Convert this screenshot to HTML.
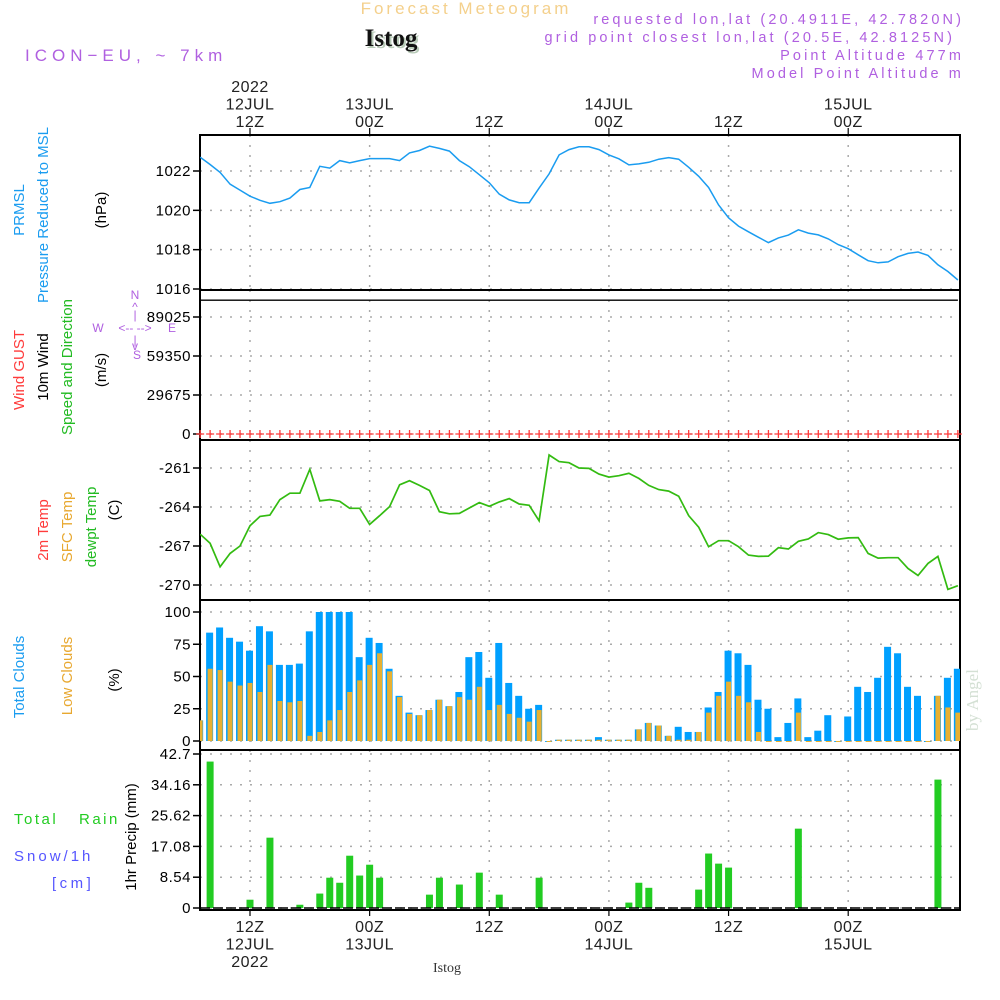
<!DOCTYPE html>
<html><head><meta charset="utf-8">
<style>
html,body{margin:0;padding:0;background:#fff;}
svg{display:block;font-family:"Liberation Sans",sans-serif;}
</style></head>
<body>
<svg id="chart" width="1000" height="1000" viewBox="0 0 1000 1000" xmlns="http://www.w3.org/2000/svg">
<g id="static">
<text x="466" y="14" text-anchor="middle" font-size="17" fill="#f4d08c" letter-spacing="3">Forecast Meteogram</text>
<text x="393" y="48" text-anchor="middle" font-size="25" font-weight="bold" font-family="Liberation Serif,serif" fill="#b8cbb8">Istog</text>
<text x="391" y="46" text-anchor="middle" font-size="25" font-weight="bold" font-family="Liberation Serif,serif" fill="#111">Istog</text>
<text x="25" y="61" font-size="17" fill="#b060e0" letter-spacing="5">ICON−EU, ~ 7km</text>
<g font-size="14.5" fill="#b060e0" text-anchor="end" letter-spacing="3.1">
<text x="964" y="24">requested lon,lat (20.4911E, 42.7820N)</text>
<text x="955" y="42">grid point closest lon,lat (20.5E, 42.8125N)</text>
<text x="964" y="60">Point Altitude 477m</text>
<text x="964" y="78">Model Point Altitude m</text>
</g>
<text x="978" y="700" font-size="17" font-family="Liberation Serif,serif" fill="#d4e0d4" transform="rotate(-90 978 700)" text-anchor="middle">by Angel</text>
<g font-size="15" text-anchor="middle">
<text transform="translate(24,210) rotate(-90)" fill="#1a9cf0">PRMSL</text>
<text transform="translate(48,215) rotate(-90)" fill="#1a9cf0">Pressure Reduced to MSL</text>
<text transform="translate(106,210) rotate(-90)" fill="#000">(hPa)</text>
<text transform="translate(24,370) rotate(-90)" fill="#ff3b3b">Wind GUST</text>
<text transform="translate(48,367) rotate(-90)" fill="#000">10m Wind</text>
<text transform="translate(72,367) rotate(-90)" fill="#22bb22">Speed and Direction</text>
<text transform="translate(106,370) rotate(-90)" fill="#000">(m/s)</text>
<text transform="translate(48,530) rotate(-90)" fill="#ff3b3b">2m Temp</text>
<text transform="translate(72,527) rotate(-90)" fill="#e8a830">SFC Temp</text>
<text transform="translate(96,527) rotate(-90)" fill="#22bb22">dewpt Temp</text>
<text transform="translate(119,510) rotate(-90)" fill="#000">(C)</text>
<text transform="translate(24,677) rotate(-90)" fill="#1a9cf0">Total Clouds</text>
<text transform="translate(72,676) rotate(-90)" fill="#e8a830">Low Clouds</text>
<text transform="translate(119,680) rotate(-90)" fill="#000">(%)</text>
<text transform="translate(136,837) rotate(-90)" fill="#000">1hr Precip (mm)</text>
</g>
<text x="14" y="824" font-size="15" fill="#22cc22" letter-spacing="2.5">Total</text>
<text x="79" y="824" font-size="15" fill="#22cc22" letter-spacing="2.5">Rain</text>
<text x="14" y="861" font-size="15" fill="#5555ff" letter-spacing="3">Snow/1h</text>
<text x="52" y="888" font-size="15" fill="#5555ff" letter-spacing="3.5">[cm]</text>
<g font-size="12" fill="#b060e0" text-anchor="middle">
<text x="135" y="299">N</text><text x="135" y="311">^</text><text x="135" y="319">|</text>
<text x="98" y="332">W</text><text x="135" y="332">&lt;-- --&gt;</text><text x="172" y="332">E</text>
<text x="135" y="344">|</text><text x="135" y="350">v</text><text x="137" y="359">S</text>
</g>
<text x="447" y="972" font-size="14" font-family="Liberation Serif,serif" fill="#333" text-anchor="middle">Istog</text>
</g>
<g id="dyn"></g>
</svg>
<script>
const hours = [];
for (let h = -5; h <= 71; h++) hours.push(h);
const pressure = [1022.70,1022.33,1021.93,1021.33,1021.03,1020.72,1020.51,1020.36,1020.44,1020.62,1021.06,1021.16,1022.24,1022.15,1022.53,1022.41,1022.53,1022.63,1022.63,1022.63,1022.53,1022.92,1023.04,1023.26,1023.15,1023.01,1022.53,1022.22,1021.81,1021.40,1020.82,1020.53,1020.39,1020.39,1021.13,1021.85,1022.82,1023.09,1023.23,1023.23,1023.09,1022.82,1022.62,1022.31,1022.36,1022.44,1022.60,1022.68,1022.60,1022.19,1021.73,1021.16,1020.27,1019.62,1019.20,1018.91,1018.63,1018.36,1018.60,1018.74,1019.01,1018.84,1018.75,1018.55,1018.26,1018.05,1017.74,1017.44,1017.33,1017.38,1017.64,1017.81,1017.88,1017.71,1017.23,1016.89,1016.46];
const dewpt = [-266.09,-266.79,-268.60,-267.57,-267.00,-265.45,-264.72,-264.62,-263.43,-262.94,-262.94,-261.10,-263.53,-263.43,-263.56,-264.10,-264.10,-265.34,-264.67,-263.97,-262.29,-261.98,-262.34,-262.73,-264.36,-264.52,-264.49,-264.08,-263.66,-263.95,-263.61,-263.35,-263.77,-263.87,-265.06,-260.00,-260.51,-260.59,-261.00,-261.03,-261.47,-261.70,-261.59,-261.41,-261.80,-262.34,-262.66,-262.78,-263.17,-264.67,-265.55,-267.05,-266.59,-266.59,-267.05,-267.70,-267.80,-267.78,-267.13,-267.23,-266.64,-266.46,-265.97,-266.12,-266.48,-266.38,-266.35,-267.57,-267.93,-267.90,-267.90,-268.73,-269.27,-268.34,-267.80,-270.34,-270.05];
const windSpeed = []; for (let i = 0; i < 77; i++) windSpeed.push(101800);
const windGust = []; for (let i = 0; i < 77; i++) windGust.push(0);
const totalClouds = [16,84,88,80,77,70,89,85,59,59,60,85,100,100,100,100,65,80,76,56,35,22,20,24,32,27,38,65,69,49,76,45,35,25,28,0,1,1,1,1,3,1,1,1,9,14,12,4,11,7,7,26,38,70,68,59,32,25,3,14,33,3,8,20,0,19,42,38,49,73,68,42,35,0,35,49,56];
const lowClouds = [16,56,55,46,43,45,38,59,31,30,31,4,7,16,24,38,47,59,68,54,34,21,20,24,32,27,34,32,42,24,28,21,18,15,24,0,1,1,1,1,1,1,1,1,9,14,12,4,1,1,7,22,35,46,35,30,7,0,0,0,22,0,0,0,0,0,0,0,0,0,0,0,0,0,35,26,22];
const precipHours = [-4,0,2,5,7,8,9,10,11,12,13,18,19,21,23,25,29,38,39,40,45,46,47,48,55,69];
const precipValues = [40.6,2.3,19.5,0.9,4.0,8.4,7.0,14.5,9.0,12.0,8.4,3.7,8.4,6.5,9.8,3.7,8.4,1.5,7.0,5.6,5.1,15.1,12.3,11.2,22.0,35.6];
const pTicks = [1016,1018,1020,1022];
const wTicks = [0,29675,59350,89025];
const tTicks = [-270,-267,-264,-261];
const cTicks = [0,25,50,75,100];
const rTicks = [0,8.54,17.08,25.62,34.16,42.7];
const rTickLabels = ["0","8.54","17.08","25.62","34.16","42.7"];
const gridHours = [0,12,24,36,48,60];
const topLabels = [["2022","12JUL","12Z"],["","13JUL","00Z"],["","","12Z"],["","14JUL","00Z"],["","","12Z"],["","15JUL","00Z"]];
const botLabels = [["12Z","12JUL","2022"],["00Z","13JUL",""],["12Z","",""],["00Z","14JUL",""],["12Z","",""],["00Z","15JUL",""]];

const NS = "http://www.w3.org/2000/svg";
const dyn = document.getElementById('dyn');
const X0 = 200, X1 = 960;
function xs(h){ return 250 + h * 9.97; }
function lin(d0,d1,r0,r1){ return v => r0 + (v-d0)*(r1-r0)/(d1-d0); }
const panels = {
  p:{top:135,bot:290,y:lin(1016,1022,289,171)},
  w:{top:290,bot:440,y:lin(0,89025,434,317)},
  t:{top:440,bot:600,y:lin(-261,-270,468,585)},
  c:{top:600,bot:750,y:lin(0,100,741,612)},
  r:{top:750,bot:910,y:lin(0,42.7,908,754)}
};
function mk(tag, attrs, parent){
  const e = document.createElementNS(NS, tag);
  for (const k in attrs) e.setAttribute(k, attrs[k]);
  (parent||dyn).appendChild(e);
  return e;
}
const clip = mk('clipPath',{id:'plotclip'});
mk('rect',{x:X0,y:130,width:X1-X0,height:790},clip);

function drawPanel(key, ticks, labels, name){
  const P = panels[key];
  const g = mk('g',{});
  
  
  ticks.forEach((v,i)=>{
    const y = P.y(v);
    const gl = mk('line',{x1:X0,x2:X1,y1:y,y2:y,stroke:'#aaa','stroke-width':1.5,'stroke-dasharray':'2,8'},g);
    
    
    mk('line',{x1:X0-7,x2:X0,y1:y,y2:y,stroke:'#000','stroke-width':1.5},g);
    const t = mk('text',{x:X0-9,y:y+5,'text-anchor':'end','font-size':15,fill:'#000','letter-spacing':'0.5'},g);
    t.textContent = labels ? labels[i] : String(v);
    
    
  });
  gridHours.forEach(h=>{
    const x = xs(h);
    const vl = mk('line',{x1:x,x2:x,y1:P.top,y2:P.bot,stroke:'#aaa','stroke-width':1.5,'stroke-dasharray':'2,8'},g);
    
    
  });
  const fr = mk('rect',{x:X0,y:P.top,width:X1-X0,height:P.bot-P.top,fill:'none',stroke:'#000','stroke-width':2},g);
  
  
  return g;
}
drawPanel('p', pTicks, null, 'pressure');
drawPanel('w', wTicks, null, 'wind');
drawPanel('t', tTicks, null, 'temperature');
drawPanel('c', cTicks, null, 'clouds');
drawPanel('r', rTicks, rTickLabels, 'precip');

function linePath(vals, yf){
  return vals.map((v,i)=>(i?'L':'M')+xs(hours[i]).toFixed(1)+','+yf(v).toFixed(1)).join(' ');
}
const pl = mk('path',{d:linePath(pressure,panels.p.y),fill:'none',stroke:'#1a9cf0','stroke-width':1.5,'clip-path':'url(#plotclip)'});


const wl = mk('path',{d:linePath(windSpeed,panels.w.y),fill:'none',stroke:'#000','stroke-width':1.3,'clip-path':'url(#plotclip)'});


windGust.forEach((v,i)=>{
  const x = xs(hours[i]), y = panels.w.y(v);
  if (x < X0 || x > X1) return;
  const gp = mk('path',{d:`M${x-4},${y}H${x+4}M${x},${y-4}V${y+4}`,stroke:'#ff3b3b','stroke-width':1.3});
  
  
});
const tl = mk('path',{d:linePath(dewpt,panels.t.y),fill:'none',stroke:'#33bb11','stroke-width':1.7,'clip-path':'url(#plotclip)'});



const cg = mk('g',{'clip-path':'url(#plotclip)'});
totalClouds.forEach((v,i)=>{
  const x = xs(hours[i]), y0 = panels.c.y(0), y = panels.c.y(v);
  const b = mk('rect',{x:x-4,y:y,width:7,height:Math.max(y0-y,1),fill:'#00a0ff'},cg);
  
  
});
lowClouds.forEach((v,i)=>{
  const x = xs(hours[i]), y0 = panels.c.y(0), y = panels.c.y(v);
  const b = mk('rect',{x:x-2.5,y:y,width:5,height:Math.max(y0-y,1),fill:'#e8b030'},cg);
  
  
});
precipValues.forEach((v,i)=>{
  const x = xs(precipHours[i]), y0 = panels.r.y(0), y = panels.r.y(v);
  const b = mk('rect',{x:x-3.5,y:y,width:7,height:y0-y,fill:'#22cc22'});
  
  
});
const bl = mk('line',{x1:X0,x2:X1,y1:908,y2:908,stroke:'#000','stroke-width':1.5,'stroke-dasharray':'10,3'});



gridHours.forEach((h,i)=>{
  const x = xs(h);
  mk('line',{x1:x,x2:x,y1:128,y2:135,stroke:'#000','stroke-width':1.2});
  mk('line',{x1:x,x2:x,y1:910,y2:916,stroke:'#000','stroke-width':1.2});
  topLabels[i].forEach((s,j)=>{
    if(!s) return;
    const t = mk('text',{x:x,y:92+j*17.5,'text-anchor':'middle','font-size':16,fill:'#222','letter-spacing':'0.5'});
    t.textContent = s;
    
    
  });
  botLabels[i].forEach((s,j)=>{
    if(!s) return;
    const t = mk('text',{x:x,y:932+j*17.5,'text-anchor':'middle','font-size':16,fill:'#222','letter-spacing':'0.5'});
    t.textContent = s;
    
    
  });
});
</script>
</body></html>
